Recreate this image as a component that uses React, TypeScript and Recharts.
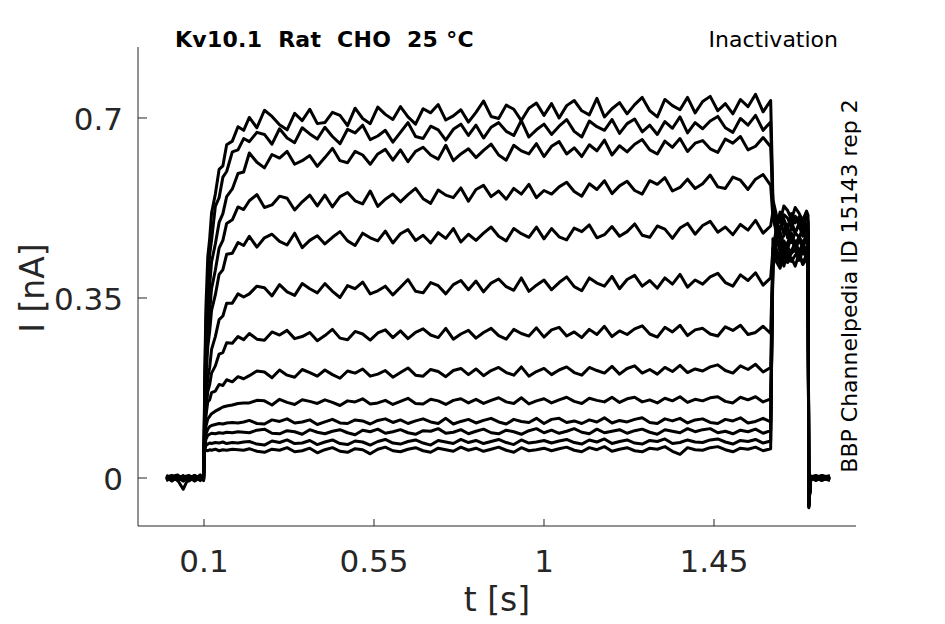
import React from "react";
import { LineChart, Line, XAxis, YAxis } from "recharts";

// time grid [s]
const T = [
  0, 0.015, 0.03, 0.045, 0.06, 0.075, 0.09, 0.099,
  0.1, 0.102, 0.105, 0.11, 0.115, 0.12, 0.13, 0.14, 0.15, 0.16, 0.175, 0.19, 0.205,
  0.22, 0.24, 0.26, 0.28, 0.3, 0.32, 0.34, 0.36, 0.38, 0.4,
  0.42, 0.44, 0.46, 0.48, 0.5, 0.52, 0.54, 0.56, 0.58, 0.6,
  0.62, 0.64, 0.66, 0.68, 0.7, 0.72, 0.74, 0.76, 0.78, 0.8,
  0.82, 0.84, 0.86, 0.88, 0.9, 0.92, 0.94, 0.96, 0.98, 1,
  1.02, 1.04, 1.06, 1.08, 1.1, 1.12, 1.14, 1.16, 1.18, 1.2,
  1.22, 1.24, 1.26, 1.28, 1.3, 1.32, 1.34, 1.36, 1.38, 1.4,
  1.42, 1.44, 1.46, 1.48, 1.5, 1.52, 1.54, 1.56, 1.58, 1.6,
  1.606, 1.615, 1.625, 1.635, 1.645, 1.655, 1.665, 1.675, 1.685, 1.695, 1.699,
  1.701, 1.706, 1.72, 1.735, 1.757,
];

// current traces [nA]
const S1 = [
  0.003, -0.004, 0.002, -0.006, 0.004, -0.002, 0.005, 0.001,
  0.05, 0.2, 0.33, 0.43, 0.465, 0.515, 0.552, 0.6, 0.607, 0.648, 0.655, 0.683, 0.676,
  0.701, 0.681, 0.715, 0.703, 0.687, 0.677, 0.709, 0.695, 0.717, 0.689,
  0.691, 0.711, 0.705, 0.685, 0.719, 0.699, 0.689, 0.721, 0.707, 0.697,
  0.722, 0.702, 0.688, 0.718, 0.71, 0.726, 0.696, 0.704, 0.716, 0.692,
  0.711, 0.733, 0.703, 0.699, 0.725, 0.717, 0.695, 0.719, 0.729, 0.705,
  0.728, 0.7, 0.724, 0.734, 0.714, 0.706, 0.738, 0.702, 0.718, 0.73,
  0.708, 0.726, 0.74, 0.714, 0.702, 0.736, 0.724, 0.716, 0.74, 0.71,
  0.732, 0.742, 0.714, 0.728, 0.708, 0.736, 0.722, 0.746, 0.712, 0.734,
  0.541, 0.512, 0.498, 0.529, 0.52, 0.503, 0.526, 0.515, 0.501, 0.519, 0.511,
  -0.052, 0.004, -0.003, 0.005, -0.002,
];
const S2 = [
  -0.002, 0.004, -0.005, 0.003, -0.001, 0.005, -0.004, 0.002,
  0.05, 0.18, 0.3, 0.375, 0.435, 0.462, 0.528, 0.545, 0.585, 0.596, 0.634, 0.638, 0.66,
  0.654, 0.672, 0.668, 0.649, 0.679, 0.661, 0.652, 0.681, 0.669, 0.659,
  0.682, 0.664, 0.65, 0.678, 0.671, 0.686, 0.658, 0.665, 0.676, 0.653,
  0.672, 0.691, 0.664, 0.66, 0.684, 0.677, 0.657, 0.678, 0.688, 0.666,
  0.686, 0.661, 0.682, 0.691, 0.674, 0.666, 0.695, 0.663, 0.677, 0.688,
  0.668, 0.684, 0.697, 0.674, 0.663, 0.694, 0.683, 0.676, 0.697, 0.67,
  0.689, 0.698, 0.673, 0.686, 0.668, 0.693, 0.68, 0.702, 0.671, 0.691,
  0.679, 0.694, 0.703, 0.681, 0.672, 0.699, 0.686, 0.705, 0.676, 0.692,
  0.524, 0.489, 0.517, 0.503, 0.484, 0.514, 0.496, 0.508, 0.488, 0.507, 0.5,
  -0.048, -0.002, 0.004, -0.005, 0.003,
];
const S3 = [
  0.004, -0.003, 0.001, -0.005, 0.003, -0.006, 0.002, -0.001,
  0.05, 0.16, 0.26, 0.335, 0.375, 0.42, 0.455, 0.497, 0.514, 0.547, 0.562, 0.592, 0.595,
  0.632, 0.614, 0.603, 0.629, 0.622, 0.635, 0.61, 0.617, 0.627, 0.606,
  0.623, 0.641, 0.617, 0.613, 0.635, 0.628, 0.61, 0.63, 0.639, 0.618,
  0.638, 0.615, 0.635, 0.643, 0.628, 0.62, 0.647, 0.617, 0.63, 0.64,
  0.623, 0.637, 0.649, 0.628, 0.618, 0.647, 0.636, 0.63, 0.65, 0.625,
  0.645, 0.654, 0.63, 0.642, 0.625, 0.648, 0.636, 0.657, 0.628, 0.646,
  0.634, 0.649, 0.658, 0.638, 0.63, 0.655, 0.643, 0.66, 0.635, 0.651,
  0.656, 0.64, 0.633, 0.659, 0.651, 0.664, 0.638, 0.645, 0.662, 0.644,
  0.533, 0.497, 0.482, 0.512, 0.505, 0.487, 0.509, 0.494, 0.502, 0.486, 0.497,
  -0.055, 0.003, -0.004, 0.002, 0.004,
];
const S4 = [
  -0.004, 0.002, -0.002, 0.005, -0.006, 0.001, 0.003, -0.003,
  0.05, 0.14, 0.22, 0.295, 0.325, 0.368, 0.404, 0.447, 0.462, 0.495, 0.502, 0.527, 0.522,
  0.539, 0.551, 0.526, 0.531, 0.548, 0.544, 0.521, 0.537, 0.55, 0.529,
  0.55, 0.527, 0.547, 0.555, 0.539, 0.533, 0.558, 0.528, 0.542, 0.552,
  0.537, 0.551, 0.563, 0.543, 0.534, 0.56, 0.55, 0.545, 0.564, 0.538,
  0.561, 0.569, 0.547, 0.558, 0.542, 0.563, 0.552, 0.571, 0.545, 0.559,
  0.552, 0.566, 0.575, 0.557, 0.548, 0.572, 0.561, 0.578, 0.553, 0.568,
  0.577, 0.559, 0.552, 0.578, 0.571, 0.584, 0.558, 0.565, 0.581, 0.563,
  0.572, 0.589, 0.566, 0.563, 0.585, 0.579, 0.561, 0.581, 0.59, 0.569,
  0.506, 0.483, 0.507, 0.474, 0.492, 0.5, 0.476, 0.495, 0.481, 0.493, 0.487,
  -0.05, 0.002, 0.005, -0.003, 0.001,
];
const S5 = [
  0.001, -0.005, 0.004, -0.002, 0.002, -0.004, 0.006, -0.002,
  0.05, 0.12, 0.19, 0.255, 0.285, 0.326, 0.356, 0.396, 0.405, 0.435, 0.437, 0.458, 0.452,
  0.47, 0.449, 0.467, 0.474, 0.46, 0.453, 0.476, 0.448, 0.462, 0.471,
  0.455, 0.468, 0.479, 0.461, 0.452, 0.476, 0.467, 0.461, 0.48, 0.457,
  0.475, 0.483, 0.462, 0.472, 0.457, 0.477, 0.466, 0.485, 0.459, 0.474,
  0.462, 0.476, 0.488, 0.47, 0.461, 0.485, 0.475, 0.468, 0.488, 0.465,
  0.485, 0.469, 0.463, 0.486, 0.479, 0.492, 0.467, 0.473, 0.489, 0.47,
  0.479, 0.494, 0.472, 0.468, 0.49, 0.484, 0.466, 0.486, 0.495, 0.474,
  0.491, 0.499, 0.478, 0.488, 0.473, 0.493, 0.482, 0.501, 0.476, 0.49,
  0.518, 0.472, 0.488, 0.499, 0.467, 0.486, 0.478, 0.492, 0.47, 0.484, 0.48,
  -0.046, -0.003, 0.003, 0.004, -0.004,
];
const S6 = [
  0.005, -0.001, -0.004, -0.022, 0.002, 0.003, -0.003, 0.004,
  0.05, 0.1, 0.15, 0.195, 0.215, 0.25, 0.275, 0.308, 0.315, 0.34, 0.34, 0.358, 0.352,
  0.358, 0.373, 0.37, 0.354, 0.376, 0.362, 0.355, 0.378, 0.368, 0.36,
  0.378, 0.363, 0.351, 0.374, 0.368, 0.381, 0.358, 0.364, 0.373, 0.356,
  0.371, 0.386, 0.363, 0.36, 0.38, 0.374, 0.358, 0.376, 0.384, 0.366,
  0.383, 0.362, 0.379, 0.387, 0.372, 0.365, 0.389, 0.363, 0.375, 0.385,
  0.366, 0.38, 0.391, 0.372, 0.364, 0.389, 0.379, 0.373, 0.392, 0.368,
  0.386, 0.394, 0.373, 0.384, 0.369, 0.389, 0.377, 0.396, 0.371, 0.385,
  0.377, 0.391, 0.398, 0.38, 0.373, 0.395, 0.384, 0.399, 0.375, 0.389,
  0.444, 0.485, 0.462, 0.471, 0.489, 0.458, 0.477, 0.468, 0.484, 0.463, 0.474,
  -0.053, 0.004, -0.002, -0.004, 0.003,
];
const S7 = [
  -0.003, 0.003, 0.006, -0.004, 0.001, -0.002, 0.004, -0.005,
  0.05, 0.09, 0.13, 0.168, 0.182, 0.204, 0.218, 0.241, 0.244, 0.263, 0.262, 0.275, 0.269,
  0.281, 0.27, 0.268, 0.284, 0.278, 0.287, 0.271, 0.275, 0.283, 0.267,
  0.277, 0.289, 0.272, 0.269, 0.285, 0.28, 0.268, 0.282, 0.288, 0.273,
  0.286, 0.271, 0.283, 0.29, 0.278, 0.273, 0.291, 0.27, 0.28, 0.287,
  0.272, 0.283, 0.291, 0.277, 0.27, 0.289, 0.281, 0.276, 0.292, 0.274,
  0.288, 0.293, 0.276, 0.284, 0.273, 0.289, 0.279, 0.295, 0.275, 0.286,
  0.279, 0.29, 0.296, 0.28, 0.274, 0.293, 0.284, 0.297, 0.277, 0.288,
  0.291, 0.28, 0.276, 0.294, 0.287, 0.297, 0.279, 0.283, 0.295, 0.281,
  0.433, 0.466, 0.479, 0.449, 0.458, 0.476, 0.452, 0.469, 0.457, 0.472, 0.462,
  -0.049, -0.004, 0.002, 0.003, -0.003,
];
const S8 = [
  0.002, -0.006, 0.003, 0.001, -0.003, 0.005, -0.002, 0.003,
  0.05, 0.08, 0.12, 0.148, 0.152, 0.166, 0.169, 0.182, 0.18, 0.191, 0.187, 0.197, 0.193,
  0.199, 0.208, 0.206, 0.195, 0.21, 0.2, 0.196, 0.211, 0.205, 0.198,
  0.21, 0.201, 0.194, 0.208, 0.204, 0.212, 0.198, 0.202, 0.209, 0.196,
  0.205, 0.214, 0.2, 0.198, 0.211, 0.207, 0.197, 0.209, 0.213, 0.201,
  0.212, 0.199, 0.209, 0.215, 0.205, 0.2, 0.216, 0.198, 0.207, 0.213,
  0.201, 0.21, 0.216, 0.205, 0.2, 0.215, 0.209, 0.204, 0.217, 0.202,
  0.213, 0.218, 0.204, 0.211, 0.202, 0.215, 0.207, 0.219, 0.205, 0.212,
  0.208, 0.216, 0.22, 0.209, 0.204, 0.218, 0.211, 0.221, 0.206, 0.215,
  0.422, 0.47, 0.44, 0.461, 0.446, 0.469, 0.444, 0.463, 0.448, 0.466, 0.456,
  -0.056, 0.001, -0.005, 0.002, 0.004,
];
const S9 = [
  -0.001, 0.004, -0.003, 0.002, 0.005, -0.005, 0.001, -0.002,
  0.05, 0.07, 0.1, 0.115, 0.12, 0.125, 0.13, 0.134, 0.138, 0.14, 0.142, 0.145, 0.146,
  0.146, 0.151, 0.15, 0.142, 0.153, 0.147, 0.143, 0.152, 0.149, 0.145,
  0.152, 0.147, 0.141, 0.15, 0.148, 0.154, 0.144, 0.146, 0.151, 0.143,
  0.149, 0.155, 0.145, 0.144, 0.153, 0.15, 0.143, 0.151, 0.154, 0.146,
  0.153, 0.145, 0.151, 0.156, 0.148, 0.145, 0.156, 0.144, 0.15, 0.154,
  0.146, 0.152, 0.157, 0.149, 0.145, 0.155, 0.151, 0.148, 0.157, 0.147,
  0.154, 0.157, 0.148, 0.152, 0.146, 0.155, 0.15, 0.158, 0.147, 0.153,
  0.15, 0.156, 0.158, 0.149, 0.146, 0.157, 0.152, 0.158, 0.148, 0.154,
  0.418, 0.452, 0.462, 0.431, 0.448, 0.439, 0.461, 0.44, 0.455, 0.443, 0.45,
  -0.047, 0.003, 0.001, -0.004, 0.002,
];
const S10 = [
  0.004, -0.002, 0.001, -0.004, 0.003, 0.002, -0.005, 0.003,
  0.05, 0.062, 0.085, 0.095, 0.1, 0.102, 0.104, 0.106, 0.105, 0.107, 0.108, 0.107, 0.109,
  0.112, 0.106, 0.105, 0.113, 0.11, 0.115, 0.107, 0.109, 0.113, 0.104,
  0.109, 0.114, 0.107, 0.106, 0.113, 0.111, 0.105, 0.112, 0.115, 0.108,
  0.113, 0.106, 0.111, 0.115, 0.109, 0.106, 0.116, 0.105, 0.11, 0.114,
  0.107, 0.112, 0.116, 0.109, 0.105, 0.114, 0.11, 0.108, 0.116, 0.106,
  0.114, 0.116, 0.108, 0.111, 0.106, 0.113, 0.109, 0.117, 0.107, 0.112,
  0.109, 0.114, 0.117, 0.108, 0.106, 0.115, 0.111, 0.116, 0.107, 0.113,
  0.115, 0.108, 0.106, 0.114, 0.111, 0.117, 0.107, 0.11, 0.116, 0.109,
  0.41, 0.445, 0.427, 0.452, 0.43, 0.441, 0.455, 0.428, 0.447, 0.434, 0.442,
  -0.051, -0.001, 0.004, 0.001, -0.005,
];
const S11 = [
  -0.005, 0.001, 0.003, -0.001, -0.004, 0.004, 0.002, -0.004,
  0.05, 0.058, 0.075, 0.083, 0.085, 0.087, 0.086, 0.088, 0.087, 0.089, 0.088, 0.09, 0.089,
  0.088, 0.093, 0.095, 0.087, 0.086, 0.092, 0.09, 0.085, 0.094, 0.089,
  0.086, 0.091, 0.094, 0.088, 0.084, 0.093, 0.09, 0.095, 0.087, 0.09,
  0.094, 0.088, 0.085, 0.092, 0.091, 0.096, 0.087, 0.089, 0.094, 0.086,
  0.091, 0.095, 0.088, 0.086, 0.093, 0.09, 0.085, 0.092, 0.096, 0.088,
  0.093, 0.087, 0.091, 0.096, 0.089, 0.086, 0.095, 0.088, 0.091, 0.094,
  0.087, 0.092, 0.095, 0.089, 0.085, 0.094, 0.091, 0.088, 0.096, 0.09,
  0.094, 0.096, 0.088, 0.091, 0.086, 0.093, 0.09, 0.095, 0.087, 0.092,
  0.429, 0.438, 0.418, 0.447, 0.424, 0.437, 0.444, 0.423, 0.441, 0.428, 0.436,
  -0.054, 0.002, -0.003, 0.005, 0.001,
];
const S12 = [
  0.002, 0.005, -0.004, 0.004, -0.002, -0.003, 0.003, 0.001,
  0.05, 0.055, 0.063, 0.066, 0.068, 0.067, 0.069, 0.068, 0.07, 0.067, 0.069, 0.068, 0.07,
  0.071, 0.066, 0.064, 0.072, 0.069, 0.074, 0.067, 0.068, 0.073, 0.065,
  0.07, 0.074, 0.067, 0.065, 0.072, 0.07, 0.064, 0.071, 0.075, 0.068,
  0.066, 0.071, 0.074, 0.068, 0.064, 0.073, 0.07, 0.067, 0.075, 0.069,
  0.073, 0.067, 0.071, 0.075, 0.069, 0.065, 0.074, 0.068, 0.07, 0.073,
  0.068, 0.072, 0.075, 0.069, 0.066, 0.074, 0.07, 0.076, 0.067, 0.071,
  0.074, 0.068, 0.066, 0.073, 0.071, 0.076, 0.067, 0.069, 0.074, 0.07,
  0.069, 0.074, 0.076, 0.07, 0.066, 0.073, 0.071, 0.075, 0.068, 0.072,
  0.447, 0.425, 0.436, 0.412, 0.44, 0.421, 0.433, 0.438, 0.417, 0.435, 0.43,
  -0.045, -0.004, 0.003, -0.002, 0.003,
];
const S13 = [
  -0.002, -0.003, 0.005, -0.003, 0.004, 0.001, -0.001, 0.005,
  0.05, 0.052, 0.054, 0.053, 0.055, 0.054, 0.056, 0.053, 0.055, 0.054, 0.056, 0.055, 0.054,
  0.057, 0.052, 0.05, 0.056, 0.054, 0.059, 0.051, 0.053, 0.058, 0.049,
  0.055, 0.059, 0.052, 0.05, 0.057, 0.055, 0.047, 0.056, 0.06, 0.053,
  0.051, 0.056, 0.059, 0.053, 0.05, 0.058, 0.055, 0.052, 0.06, 0.054,
  0.058, 0.052, 0.056, 0.06, 0.054, 0.05, 0.059, 0.053, 0.055, 0.058,
  0.053, 0.057, 0.06, 0.054, 0.051, 0.059, 0.055, 0.061, 0.052, 0.056,
  0.059, 0.053, 0.051, 0.058, 0.056, 0.061, 0.052, 0.046, 0.059, 0.055,
  0.054, 0.059, 0.061, 0.055, 0.051, 0.058, 0.056, 0.06, 0.053, 0.057,
  0.465, 0.421, 0.408, 0.433, 0.419, 0.428, 0.412, 0.436, 0.415, 0.426, 0.424,
  -0.058, 0.003, 0.002, -0.003, -0.001,
];

const SERIES = [S1, S2, S3, S4, S5, S6, S7, S8, S9, S10, S11, S12, S13];
const X_TICKS = [0.1, 0.55, 1, 1.45];
const Y_TICKS = [0, 0.35, 0.7];
const X_DOMAIN = [-0.0747, 1.8259];
const Y_DOMAIN = [-0.0933, 0.838];

const rows = T.map((t, i) => {
  const r: Record<string, number> = { t };
  SERIES.forEach((s, k) => {
    r["s" + (k + 1)] = s[i];
  });
  return r;
});

const AX = "#262626";
const FONT = "DejaVu Sans";

const XTick = (props: any) => {
  const { x, y, payload } = props;
  return (
    <g>
      <line x1={x} x2={x} y1={y} y2={y - 7} stroke={AX} strokeWidth={1} />
      <text x={x} y={y + 46} textAnchor="middle" fontSize={31} fill={AX} fontFamily={FONT}>
        {String(payload.value)}
      </text>
    </g>
  );
};

const YTick = (props: any) => {
  const { x, y, payload } = props;
  return (
    <g>
      <line x1={x} x2={x + 9} y1={y} y2={y} stroke={AX} strokeWidth={1} />
      <text x={x - 15} y={y + 12} textAnchor="end" fontSize={31} fill={AX} fontFamily={FONT}>
        {String(payload.value)}
      </text>
    </g>
  );
};

export default function App() {
  return (
    <div style={{ position: "absolute", left: 0, top: 0, width: 945, height: 624, background: "#fff" }}>
      <LineChart
        width={945}
        height={624}
        data={rows}
        margin={{ top: 47, right: 89, left: 78, bottom: 58 }}
      >
        <XAxis
          dataKey="t"
          type="number"
          domain={X_DOMAIN}
          ticks={X_TICKS}
          allowDataOverflow
          height={40}
          tickSize={0}
          tickMargin={0}
          tickLine={false}
          axisLine={{ stroke: AX, strokeWidth: 1 }}
          tick={<XTick />}
          interval={0}
        />
        <YAxis
          type="number"
          domain={Y_DOMAIN}
          ticks={Y_TICKS}
          allowDataOverflow
          width={60}
          tickSize={0}
          tickMargin={0}
          tickLine={false}
          axisLine={{ stroke: AX, strokeWidth: 1 }}
          tick={<YTick />}
          interval={0}
        />
        {SERIES.map((_, k) => (
          <Line
            key={k}
            dataKey={"s" + (k + 1)}
            type="linear"
            stroke="#000"
            strokeWidth={3}
            strokeLinejoin="round"
            dot={false}
            isAnimationActive={false}
          />
        ))}
      </LineChart>
      <svg
        width={945}
        height={624}
        style={{ position: "absolute", left: 0, top: 0, pointerEvents: "none" }}
      >
        <text
          x={175}
          y={47}
          fontSize={22}
          fontWeight="bold"
          fill="#000"
          fontFamily={FONT}
          letterSpacing={0.27}
          style={{ whiteSpace: "pre" }}
        >
          {"Kv10.1  Rat  CHO  25 °C"}
        </text>
        <text x={838} y={47} fontSize={22} textAnchor="end" fill="#000" fontFamily={FONT}>
          Inactivation
        </text>
        <text
          x={857}
          y={286}
          fontSize={22}
          textAnchor="middle"
          fill="#000"
          fontFamily={FONT}
          transform="rotate(-90 857 286)"
        >
          BBP Channelpedia ID 15143 rep 2
        </text>
        <text x={497} y={611} fontSize={33} textAnchor="middle" fill={AX} fontFamily={FONT}>
          t [s]
        </text>
        <text
          x={44}
          y={288}
          fontSize={33}
          textAnchor="middle"
          fill={AX}
          fontFamily={FONT}
          transform="rotate(-90 44 288)"
        >
          I [nA]
        </text>
      </svg>
    </div>
  );
}
